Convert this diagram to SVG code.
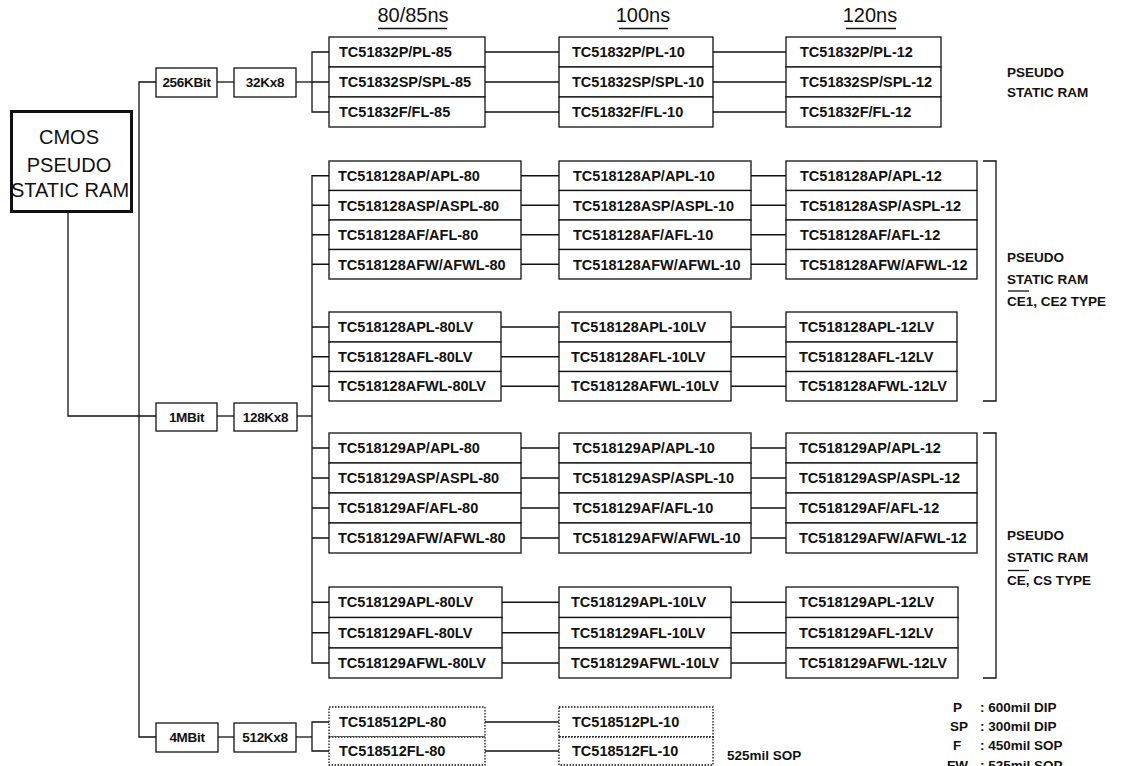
<svg xmlns="http://www.w3.org/2000/svg" width="1125" height="766" viewBox="0 0 1125 766">
<style>
text{font-family:"Liberation Sans",Arial,sans-serif;fill:#111}
.c rect{fill:#fff;stroke:#111;stroke-width:1.3}
.c text{font-size:14.5px;font-weight:bold}
.d rect{fill:#fff;stroke:#111;stroke-width:1.3;stroke-dasharray:1.5 1.5}
.d text{font-size:14.5px;font-weight:bold}
.s rect{fill:#fff;stroke:#111;stroke-width:1.3}
.s text{font-size:13.5px;font-weight:bold;text-anchor:middle;letter-spacing:-0.3px}
.lbl{font-size:13.5px;font-weight:bold}
.hd{font-size:20px;text-anchor:middle}
#connectors path,#connectors line{fill:none;stroke:#111;stroke-width:1.3}
.ul{stroke:#111;stroke-width:1.3}
</style>
<rect width="1125" height="766" fill="#fff"/>

<!-- headers -->
<g id="headers">
<text class="hd" x="413" y="22">80/85ns</text>
<line class="ul" x1="378" y1="28.5" x2="447" y2="28.5"/>
<text class="hd" x="643" y="22">100ns</text>
<line class="ul" x1="619" y1="28.5" x2="668" y2="28.5"/>
<text class="hd" x="870" y="22">120ns</text>
<line class="ul" x1="846" y1="28.5" x2="896" y2="28.5"/>
</g>

<!-- connectors -->
<g id="connectors">
<path d="M68,212 V416 H156"/>
<path d="M156,82 H139 V737 H156"/>
<line x1="217" y1="82" x2="234" y2="82"/>
<line x1="217" y1="416" x2="234" y2="416"/>
<line x1="218" y1="737" x2="234" y2="737"/>
<line x1="296" y1="82" x2="312" y2="82"/>
<line x1="297" y1="416" x2="312" y2="416"/>
<line x1="296" y1="737" x2="312" y2="737"/>
<path d="M329,52 H312 V112 H329 M312,82 H329"/>
<path d="M329,175.75 H312 V663 H329 M312,205.25 H329 M312,234.75 H329 M312,264.25 H329 M312,327 H329 M312,356.75 H329 M312,386.25 H329 M312,448 H329 M312,478 H329 M312,508 H329 M312,538 H329 M312,602.25 H329 M312,632.75 H329"/>
<path d="M329,722 H312 V751 H329"/>
<!-- top group -->
<path d="M485,52 H559 M485,82 H559 M485,112 H559 M713,52 H786 M713,82 H786 M713,112 H786"/>
<!-- 128 group -->
<path d="M521,175.75 H559 M521,205.25 H559 M521,234.75 H559 M521,264.25 H559 M751,175.75 H786 M751,205.25 H786 M751,234.75 H786 M751,264.25 H786"/>
<path d="M501,327 H559 M501,356.75 H559 M501,386.25 H559 M731,327 H786 M731,356.75 H786 M731,386.25 H786"/>
<!-- 129 group -->
<path d="M521,448 H559 M521,478 H559 M521,508 H559 M521,538 H559 M751,448 H786 M751,478 H786 M751,508 H786 M751,538 H786"/>
<path d="M502,602.25 H559 M502,632.75 H559 M502,663 H559 M731,602.25 H786 M731,632.75 H786 M731,663 H786"/>
<!-- 512 group -->
<path d="M485,722 H559 M485,751 H559"/>
<!-- right brackets -->
<path d="M983,161 H996 V401 H983"/>
<path d="M983,433 H996 V678 H983"/>
</g>

<!-- root -->
<g id="cmos">
<rect x="11.5" y="111.5" width="120" height="100" fill="#fff" stroke="#111" stroke-width="3"/>
<text x="69" y="144" font-size="20" text-anchor="middle">CMOS</text>
<text x="69" y="172" font-size="20" text-anchor="middle">PSEUDO</text>
<text x="70" y="197" font-size="20" text-anchor="middle">STATIC RAM</text>
</g>

<!-- density / org -->
<g id="n256k" class="s"><rect x="156" y="68" width="61" height="29"/><text x="186.5" y="87">256KBit</text></g>
<g id="n32k" class="s"><rect x="234" y="68" width="62" height="29"/><text x="265" y="87">32Kx8</text></g>
<g id="n1m" class="s"><rect x="156" y="403" width="61" height="28"/><text x="186.5" y="421.5">1MBit</text></g>
<g id="n128k" class="s"><rect x="234" y="403" width="63" height="28"/><text x="265.5" y="421.5">128Kx8</text></g>
<g id="n4m" class="s"><rect x="156" y="723" width="62" height="29"/><text x="187" y="742">4MBit</text></g>
<g id="n512k" class="s"><rect x="234" y="723" width="62" height="29"/><text x="265" y="742">512Kx8</text></g>

<!-- 32K group -->
<g id="t1a" class="c"><rect x="329" y="37" width="156" height="30"/><text x="339" y="57">TC51832P/PL-85</text></g>
<g id="t1b" class="c"><rect x="329" y="67" width="156" height="30"/><text x="339" y="87">TC51832SP/SPL-85</text></g>
<g id="t1c" class="c"><rect x="329" y="97" width="156" height="30"/><text x="339" y="117">TC51832F/FL-85</text></g>
<g id="t2a" class="c"><rect x="559" y="37" width="154" height="30"/><text x="572" y="57">TC51832P/PL-10</text></g>
<g id="t2b" class="c"><rect x="559" y="67" width="154" height="30"/><text x="572" y="87">TC51832SP/SPL-10</text></g>
<g id="t2c" class="c"><rect x="559" y="97" width="154" height="30"/><text x="572" y="117">TC51832F/FL-10</text></g>
<g id="t3a" class="c"><rect x="786" y="37" width="155" height="30"/><text x="800" y="57">TC51832P/PL-12</text></g>
<g id="t3b" class="c"><rect x="786" y="67" width="155" height="30"/><text x="800" y="87">TC51832SP/SPL-12</text></g>
<g id="t3c" class="c"><rect x="786" y="97" width="155" height="30"/><text x="800" y="117">TC51832F/FL-12</text></g>

<!-- 128 group -->
<g id="a1a" class="c"><rect x="329" y="161" width="192" height="29.5"/><text x="338" y="181">TC518128AP/APL-80</text></g>
<g id="a1b" class="c"><rect x="329" y="190.5" width="192" height="29.5"/><text x="338" y="210.5">TC518128ASP/ASPL-80</text></g>
<g id="a1c" class="c"><rect x="329" y="220" width="192" height="29.5"/><text x="338" y="240">TC518128AF/AFL-80</text></g>
<g id="a1d" class="c"><rect x="329" y="249.5" width="192" height="29.5"/><text x="338" y="269.5">TC518128AFW/AFWL-80</text></g>
<g id="a2a" class="c"><rect x="559" y="161" width="192" height="29.5"/><text x="573" y="181">TC518128AP/APL-10</text></g>
<g id="a2b" class="c"><rect x="559" y="190.5" width="192" height="29.5"/><text x="573" y="210.5">TC518128ASP/ASPL-10</text></g>
<g id="a2c" class="c"><rect x="559" y="220" width="192" height="29.5"/><text x="573" y="240">TC518128AF/AFL-10</text></g>
<g id="a2d" class="c"><rect x="559" y="249.5" width="192" height="29.5"/><text x="573" y="269.5">TC518128AFW/AFWL-10</text></g>
<g id="a3a" class="c"><rect x="786" y="161" width="191" height="29.5"/><text x="800" y="181">TC518128AP/APL-12</text></g>
<g id="a3b" class="c"><rect x="786" y="190.5" width="191" height="29.5"/><text x="800" y="210.5">TC518128ASP/ASPL-12</text></g>
<g id="a3c" class="c"><rect x="786" y="220" width="191" height="29.5"/><text x="800" y="240">TC518128AF/AFL-12</text></g>
<g id="a3d" class="c"><rect x="786" y="249.5" width="191" height="29.5"/><text x="800" y="269.5">TC518128AFW/AFWL-12</text></g>

<g id="b1a" class="c"><rect x="329" y="312" width="172" height="30"/><text x="338" y="332">TC518128APL-80LV</text></g>
<g id="b1b" class="c"><rect x="329" y="342" width="172" height="29.5"/><text x="338" y="361.75">TC518128AFL-80LV</text></g>
<g id="b1c" class="c"><rect x="329" y="371.5" width="172" height="29.5"/><text x="338" y="391.25">TC518128AFWL-80LV</text></g>
<g id="b2a" class="c"><rect x="559" y="312" width="172" height="30"/><text x="571" y="332">TC518128APL-10LV</text></g>
<g id="b2b" class="c"><rect x="559" y="342" width="172" height="29.5"/><text x="571" y="361.75">TC518128AFL-10LV</text></g>
<g id="b2c" class="c"><rect x="559" y="371.5" width="172" height="29.5"/><text x="571" y="391.25">TC518128AFWL-10LV</text></g>
<g id="b3a" class="c"><rect x="786" y="312" width="171" height="30"/><text x="799" y="332">TC518128APL-12LV</text></g>
<g id="b3b" class="c"><rect x="786" y="342" width="171" height="29.5"/><text x="799" y="361.75">TC518128AFL-12LV</text></g>
<g id="b3c" class="c"><rect x="786" y="371.5" width="171" height="29.5"/><text x="799" y="391.25">TC518128AFWL-12LV</text></g>

<!-- 129 group -->
<g id="c1a" class="c"><rect x="329" y="433" width="192" height="30"/><text x="338" y="453">TC518129AP/APL-80</text></g>
<g id="c1b" class="c"><rect x="329" y="463" width="192" height="30"/><text x="338" y="483">TC518129ASP/ASPL-80</text></g>
<g id="c1c" class="c"><rect x="329" y="493" width="192" height="30"/><text x="338" y="513">TC518129AF/AFL-80</text></g>
<g id="c1d" class="c"><rect x="329" y="523" width="192" height="30"/><text x="338" y="543">TC518129AFW/AFWL-80</text></g>
<g id="c2a" class="c"><rect x="559" y="433" width="192" height="30"/><text x="573" y="453">TC518129AP/APL-10</text></g>
<g id="c2b" class="c"><rect x="559" y="463" width="192" height="30"/><text x="573" y="483">TC518129ASP/ASPL-10</text></g>
<g id="c2c" class="c"><rect x="559" y="493" width="192" height="30"/><text x="573" y="513">TC518129AF/AFL-10</text></g>
<g id="c2d" class="c"><rect x="559" y="523" width="192" height="30"/><text x="573" y="543">TC518129AFW/AFWL-10</text></g>
<g id="c3a" class="c"><rect x="786" y="433" width="191" height="30"/><text x="799" y="453">TC518129AP/APL-12</text></g>
<g id="c3b" class="c"><rect x="786" y="463" width="191" height="30"/><text x="799" y="483">TC518129ASP/ASPL-12</text></g>
<g id="c3c" class="c"><rect x="786" y="493" width="191" height="30"/><text x="799" y="513">TC518129AF/AFL-12</text></g>
<g id="c3d" class="c"><rect x="786" y="523" width="191" height="30"/><text x="799" y="543">TC518129AFW/AFWL-12</text></g>

<g id="e1a" class="c"><rect x="329" y="587" width="173" height="30.5"/><text x="338" y="607.25">TC518129APL-80LV</text></g>
<g id="e1b" class="c"><rect x="329" y="617.5" width="173" height="30.5"/><text x="338" y="637.75">TC518129AFL-80LV</text></g>
<g id="e1c" class="c"><rect x="329" y="648" width="173" height="30"/><text x="338" y="668">TC518129AFWL-80LV</text></g>
<g id="e2a" class="c"><rect x="559" y="587" width="172" height="30.5"/><text x="571" y="607.25">TC518129APL-10LV</text></g>
<g id="e2b" class="c"><rect x="559" y="617.5" width="172" height="30.5"/><text x="571" y="637.75">TC518129AFL-10LV</text></g>
<g id="e2c" class="c"><rect x="559" y="648" width="172" height="30"/><text x="571" y="668">TC518129AFWL-10LV</text></g>
<g id="e3a" class="c"><rect x="786" y="587" width="172" height="30.5"/><text x="799" y="607.25">TC518129APL-12LV</text></g>
<g id="e3b" class="c"><rect x="786" y="617.5" width="172" height="30.5"/><text x="799" y="637.75">TC518129AFL-12LV</text></g>
<g id="e3c" class="c"><rect x="786" y="648" width="172" height="30"/><text x="799" y="668">TC518129AFWL-12LV</text></g>

<!-- 512 group (dotted) -->
<g id="f1a" class="d"><rect x="329" y="707" width="156" height="30"/><text x="339" y="727">TC518512PL-80</text></g>
<g id="f1b" class="d"><rect x="329" y="737" width="156" height="28"/><text x="339" y="756">TC518512FL-80</text></g>
<g id="f2a" class="d"><rect x="559" y="707" width="154" height="30"/><text x="572" y="727">TC518512PL-10</text></g>
<g id="f2b" class="d"><rect x="559" y="737" width="154" height="28"/><text x="572" y="756">TC518512FL-10</text></g>

<!-- labels -->
<g id="labels">
<text class="lbl" x="1007" y="77">PSEUDO</text>
<text class="lbl" x="1007" y="97">STATIC RAM</text>
<text class="lbl" x="1007" y="262">PSEUDO</text>
<text class="lbl" x="1007" y="284">STATIC RAM</text>
<text class="lbl" x="1007" y="306">CE1, CE2 TYPE</text>
<line class="ul" x1="1008" y1="291" x2="1029" y2="291"/>
<text class="lbl" x="1007" y="540">PSEUDO</text>
<text class="lbl" x="1007" y="562">STATIC RAM</text>
<text class="lbl" x="1007" y="585">CE, CS TYPE</text>
<line class="ul" x1="1008" y1="570.5" x2="1029" y2="570.5"/>
<text class="lbl" x="727" y="760">525mil SOP</text>
<text class="lbl" x="953" y="712">P</text><text class="lbl" x="980" y="712">: 600mil DIP</text>
<text class="lbl" x="950" y="731">SP</text><text class="lbl" x="980" y="731">: 300mil DIP</text>
<text class="lbl" x="953" y="750">F</text><text class="lbl" x="980" y="750">: 450mil SOP</text>
<text class="lbl" x="947" y="770">FW</text><text class="lbl" x="980" y="770">: 525mil SOP</text>
</g>
</svg>
